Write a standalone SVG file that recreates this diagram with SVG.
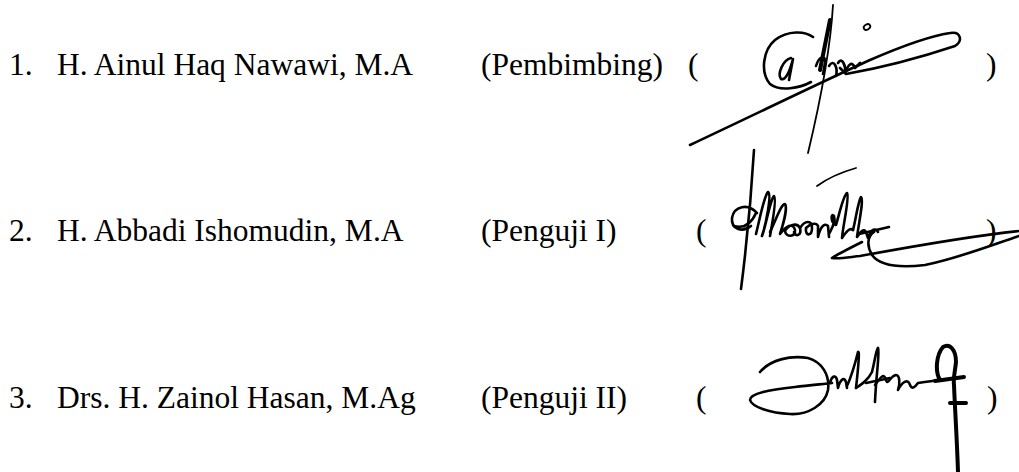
<svg xmlns="http://www.w3.org/2000/svg" width="1019" height="472" viewBox="0 0 1019 472">
<style>
text{font-family:"Liberation Serif","Times New Roman",serif;font-size:31.5px;fill:#000}
.s{fill:none;stroke:#000;stroke-width:2.6;stroke-linecap:round;stroke-linejoin:round}
.t{fill:none;stroke:#000;stroke-width:1.8;stroke-linecap:round;stroke-linejoin:round}
.b{fill:none;stroke:#000;stroke-width:4;stroke-linecap:round;stroke-linejoin:round}
</style>
<rect width="1019" height="472" fill="#fff"/>
<g id="row1">
<text x="9" y="75">1.</text>
<text x="57" y="75">H. Ainul Haq Nawawi, M.A</text>
<text x="481" y="75">(Pembimbing)</text>
<text x="688" y="75">(</text>
<text x="986" y="75">)</text>
</g>
<g id="row2">
<text x="9" y="241">2.</text>
<text x="57" y="241">H. Abbadi Ishomudin, M.A</text>
<text x="481" y="241">(Penguji I)</text>
<text x="696" y="241">(</text>
<text x="986" y="241">)</text>
</g>
<g id="row3">
<text x="9" y="408">3.</text>
<text x="57" y="408">Drs. H. Zainol Hasan, M.Ag</text>
<text x="481" y="408">(Penguji II)</text>
<text x="696" y="408">(</text>
<text x="987" y="408">)</text>
</g>
<g id="sig1">
<path class="s" d="M 813 37 C 805 31, 788 30, 775 40 C 763 50, 760 72, 770 84 C 780 92, 800 88, 811 82"/>
<path class="s" d="M 791 58 C 783 60, 777 74, 781 79 C 786 81, 790 70, 793 59 L 789 80"/>
<path class="t" d="M 833 5 C 831 40, 823 90, 808 153"/>
<path class="b" d="M 830 20 L 820 70"/>
<path class="s" d="M 816 66 C 819 56, 826 54, 825 63 L 823 74"/>
<path class="s" d="M 829 66 C 834 58, 838 68, 836 76 M 838 63 C 842 56, 846 66, 845 73 C 848 65, 852 60, 855 68 L 860 63"/>
<path class="s" d="M 690 145 C 760 112, 830 78, 870 60 C 900 47, 930 36, 950 33 C 961 31, 963 41, 955 46 C 925 56, 880 68, 846 74 L 840 68"/>
<ellipse class="t" cx="867" cy="27" rx="3.5" ry="2.5" transform="rotate(-30 867 27)"/>
</g>
<g id="sig2">
<path class="s" d="M 754 150 C 751 200, 746 250, 741 289"/>
<path class="s" d="M 757 213 C 748 203, 734 206, 732 218 C 731 229, 742 233, 751 226 M 734 226 C 745 229, 752 222, 756 213"/>
<path class="s" d="M 756 234 C 760 218, 764 196, 768 192 C 772 194, 766 224, 762 236 C 766 226, 770 200, 774 196 C 777 198, 772 225, 770 236"/>
<path class="s" d="M 770 232 C 776 220, 781 204, 785 204 C 788 208, 782 228, 780 234 C 786 226, 793 222, 795 230 C 796 237, 786 238, 785 231 C 788 225, 797 222, 800 228 C 802 236, 795 237, 794 232"/>
<path class="s" d="M 800 228 C 805 220, 812 220, 812 228 C 812 236, 805 237, 806 228 C 810 224, 816 222, 818 226 L 818 237 C 820 228, 824 222, 828 226 L 829 237"/>
<path class="s" d="M 829 234 C 832 228, 836 222, 834 216 C 831 212, 830 222, 836 225 C 840 212, 843 196, 847 193 C 850 196, 843 225, 842 238 C 846 232, 850 227, 853 230"/>
<path class="s" d="M 853 230 C 856 218, 858 202, 861 197 C 864 199, 859 222, 857 237 C 860 232, 864 228, 866 232 L 868 238 C 870 232, 874 226, 878 232"/>
<path class="s" d="M 859 234 L 889 227"/>
<path class="t" d="M 817 186 C 828 178, 842 172, 856 168"/>
<path class="s" d="M 862 242 C 850 248, 838 254, 832 258 C 840 259, 850 257, 860 256 C 920 245, 980 235, 1019 231"/>
<path class="s" d="M 1019 236 C 1000 242, 960 258, 925 265 C 900 268, 880 266, 872 255 C 866 245, 868 236, 874 232"/>
</g>
<g id="sig3">
<path class="s" d="M 760 372 C 770 360, 790 355, 808 358 C 822 362, 830 375, 828 390 C 825 405, 808 415, 790 414 C 770 413, 752 407, 750 400 C 750 393, 770 390, 795 387 C 810 385, 825 384, 832 383"/>
<path class="s" d="M 830 383 C 832 375, 836 375, 837 380 L 838 388 C 840 380, 844 376, 846 382 L 847 388"/>
<path class="s" d="M 847 386 C 852 375, 856 360, 858 352 C 860 350, 858 370, 856 388"/>
<path class="s" d="M 856 388 C 862 384, 868 380, 872 372 C 875 360, 876 350, 878 348 C 880 352, 876 375, 875 402"/>
<path class="s" d="M 866 383 L 890 378"/>
<path class="s" d="M 875 385 C 880 378, 884 372, 886 380 C 888 386, 890 376, 896 375 C 900 375, 900 385, 898 390 C 902 382, 908 378, 910 385 C 912 390, 915 387, 918 383 C 925 382, 932 381, 940 380"/>
<path class="b" d="M 940 380 C 935 372, 936 355, 943 347 C 950 343, 956 350, 956 362 C 955 372, 953 378, 954 385 C 955 410, 957 440, 958 472"/>
<path class="b" d="M 935 381 L 964 377 M 950 403 L 966 403"/>
</g>
</svg>
